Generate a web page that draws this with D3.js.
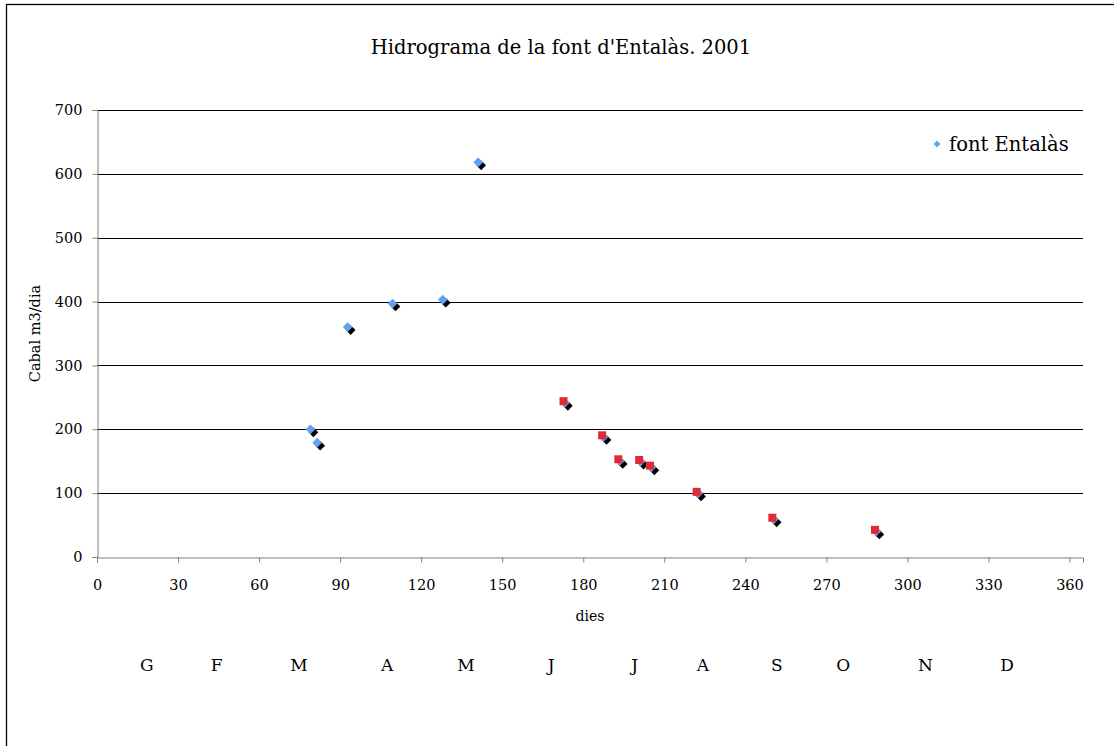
<!DOCTYPE html>
<html><head><meta charset="utf-8">
<script src="https://cdn.jsdelivr.net/npm/d3@7"></script>
<style>body{margin:0;background:#fff}svg{display:block}</style>
</head><body><svg id="c" width="1114" height="746"></svg>
<script>
const title = "Hidrograma de la font d'Entalàs. 2001";
const seriesName = "font Entalàs";
const xTicks = [0,30,60,90,120,150,180,210,240,270,300,330,360];
const yTicks = [0,100,200,300,400,500,600,700];
// blue diamonds (font Entalàs)
const blueDays = [79, 81.5, 92.8, 109.4, 128, 141.1, 173.2, 187.5, 193.5, 201.2, 205.2, 222.5, 250.5, 288.5];
const blueVals = [200, 179, 360, 397, 403, 618, 241.5, 188, 150.5, 149.5, 140.5, 99.5, 59, 40];
// red squares
const redDays = [172.7, 187, 193, 200.7, 204.7, 222, 250, 288];
const redVals = [244, 190.5, 153, 152, 143, 102, 61.5, 42.5];
// month labels and the day position where each sits
const months = ["G","F","M","A","M","J","J","A","S","O","N","D"];
const monthDays = [18.4, 44.3, 74.8, 107.4, 136.6, 168.1, 199, 224.3, 251.7, 276.2, 306.7, 336.9];

const FONT = "'DejaVu Serif', serif";
const svg = d3.select("#c");
const m = {l:97, r:1083, t:110, b:557};
const x = d3.scaleLinear().domain([0,365]).range([m.l, m.r]);
const y = d3.scaleLinear().domain([0,700]).range([m.b, m.t]);

// outer border
svg.append("rect").attr("x",6.5).attr("y",4.5).attr("width",1200).attr("height",1000)
  .attr("fill","none").attr("stroke","#000").attr("stroke-width",1.3);

// title
svg.append("text").attr("x",561).attr("y",54).attr("text-anchor","middle")
  .attr("font-family",FONT).attr("font-size",19.5).text(title);

// gridlines
svg.append("g").selectAll("line").data(yTicks.filter(d=>d>0)).join("line")
  .attr("x1",m.l).attr("x2",m.r).attr("y1",d=>Math.round(y(d))+0.5).attr("y2",d=>Math.round(y(d))+0.5)
  .attr("stroke","#000").attr("stroke-width",1);

// y axis
const ya = svg.append("g").attr("transform",`translate(${m.l+0.5},0)`)
  .call(d3.axisLeft(y).tickValues(yTicks).tickSize(5).tickPadding(10).tickFormat(d3.format("d")));
ya.select(".domain").attr("stroke","#808080");
ya.selectAll(".tick line").attr("stroke","#808080");
ya.selectAll("text").attr("font-family",FONT).attr("font-size",14.5).attr("fill","#000");

// x axis
const xa = svg.append("g").attr("transform",`translate(0,${m.b+0.5})`)
  .call(d3.axisBottom(x).tickValues(xTicks).tickSize(5).tickPadding(17).tickFormat(d3.format("d")));
xa.select(".domain").attr("stroke","#808080");
xa.selectAll(".tick line").attr("stroke","#808080");
xa.selectAll("text").attr("font-family",FONT).attr("font-size",14.5).attr("fill","#000");

// axis titles
svg.append("text").attr("x",(m.l+m.r)/2).attr("y",621).attr("text-anchor","middle")
  .attr("font-family",FONT).attr("font-size",14).text("dies");
svg.append("text").attr("transform",`translate(40,${(m.t+m.b)/2}) rotate(-90)`).attr("text-anchor","middle")
  .attr("font-family",FONT).attr("font-size",14.5).text("Cabal m3/dia");

// months
svg.append("g").selectAll("text").data(months).join("text")
  .attr("x",(d,i)=>x(monthDays[i])).attr("y",671).attr("text-anchor","middle")
  .attr("font-family",FONT).attr("font-size",17).text(d=>d);

// markers
const blue = blueDays.map((d,i)=>({d, v:blueVals[i]}));
const red = redDays.map((d,i)=>({d, v:redVals[i]}));
const dia = d3.symbol().type(d3.symbolDiamond2).size(60);
svg.append("g").selectAll("path").data(blue).join("path")
  .attr("d",dia).attr("transform",d=>`translate(${x(d.d)+3},${y(d.v)+3})`).attr("fill","#000");
svg.append("g").selectAll("path").data(blue).join("path")
  .attr("d",dia).attr("transform",d=>`translate(${x(d.d)},${y(d.v)})`).attr("fill","#63A0F0");
svg.append("g").selectAll("rect").data(red).join("rect")
  .attr("x",d=>x(d.d)-4).attr("y",d=>y(d.v)-4).attr("width",8).attr("height",8).attr("fill","#E02A36");

// legend
svg.append("path").attr("d",d3.symbol().type(d3.symbolDiamond2).size(30))
  .attr("transform","translate(937,144)").attr("fill","#63A0F0");
svg.append("text").attr("x",949).attr("y",150.5).attr("font-family",FONT).attr("font-size",19.5).text(seriesName);
</script></body></html>
